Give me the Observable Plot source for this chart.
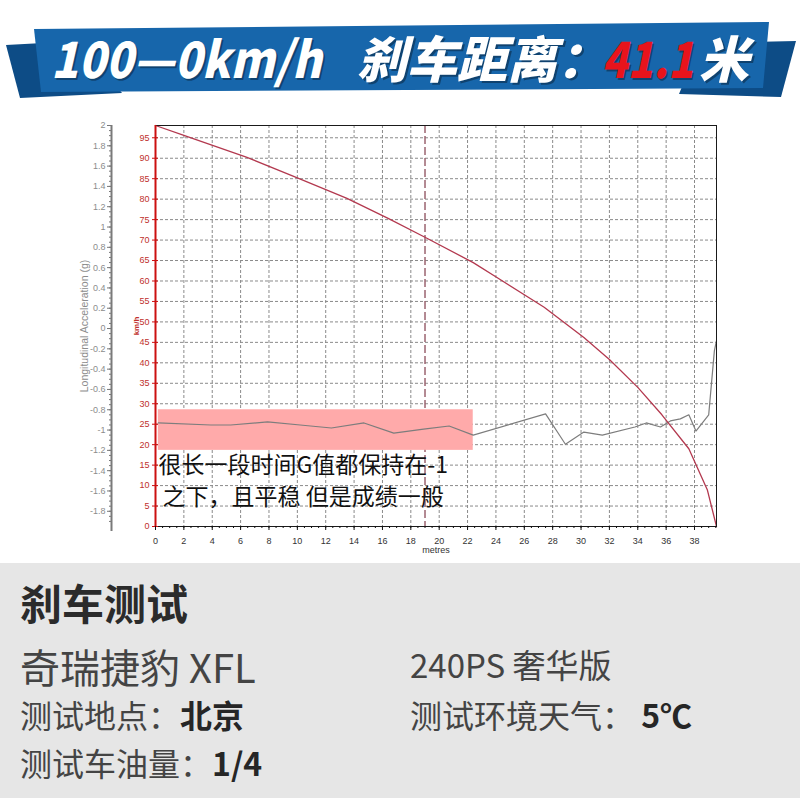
<!DOCTYPE html>
<html>
<head>
<meta charset="utf-8">
<script src="https://cdn.jsdelivr.net/npm/d3@7"></script>
<script src="https://cdn.jsdelivr.net/npm/@observablehq/plot@0.6"></script>
<style>
  body { margin: 0; width: 800px; height: 798px; position: relative; background: #fff; overflow: hidden;
         font-family: "Noto Sans CJK SC", "Noto Sans", sans-serif; }
  #chart { position: absolute; left: 0; top: 0; }
  .rib { position: absolute; left: 0; top: 0; width: 800px; height: 110px; }
  .tailL { background: #0d4c86; clip-path: polygon(6px 45px, 80px 41px, 122px 93px, 20px 98px); }
  .tailR { background: #0d4c86; clip-path: polygon(700px 43px, 796px 41px, 781px 97px, 679px 94px); }
  .band  { background: #1766ab; clip-path: polygon(34px 29px, 769px 22px, 763px 88px, 41px 92px); }
  .bt { position: absolute; top: 31px; font-size: 50px; line-height: 50px; font-weight: 900; font-style: italic;
        color: #fff; white-space: nowrap; text-shadow: 2px 2px 0 rgba(0,0,0,0.35); transform-origin: 0 50%; }
  .panel { position: absolute; left: 0; top: 563px; width: 800px; height: 235px; background: #e6e6e6; }
  .pt { position: absolute; white-space: nowrap; color: #444; }
  .pt b { color: #262626; }
</style>
</head>
<body>
<div id="chart"></div>

<div class="rib tailL"></div>
<div class="rib tailR"></div>
<div class="rib band"></div>
<div class="bt" style="left:51px;transform:scaleX(0.9)">100—0km/h</div>
<div class="bt" style="left:357px">刹车距离：</div>
<div class="bt" style="left:602px;color:#e8141c;transform:scaleX(0.84)">41.1</div>
<div class="bt" style="left:699px">米</div>

<div class="panel"></div>
<div class="pt" style="left:20px;top:581px;font-size:42px;line-height:42px;font-weight:bold;color:#2b2b2b">刹车测试</div>
<div class="pt" style="left:20px;top:646px;font-size:40px;line-height:40px">奇瑞捷豹 XFL</div>
<div class="pt" style="left:410px;top:648px;font-size:33px;line-height:33px">240PS 奢华版</div>
<div class="pt" style="left:20px;top:698px;font-size:32px;line-height:32px">测试地点：<b>北京</b></div>
<div class="pt" style="left:410px;top:698px;font-size:32px;line-height:32px">测试环境天气： <b>5℃</b></div>
<div class="pt" style="left:20px;top:746px;font-size:32px;line-height:32px">测试车油量：<b>1/4</b></div>

<script>
// Speed trace: distance travelled (m) and speed (km/h)
const speedDist = [0, 2, 6.45, 10.0, 13.5, 16.4, 19.1, 22.4, 24.1, 27.4, 30.2, 32.0, 34.0, 35.7, 37.6, 38.9, 39.55];
const speedKmh  = [98, 95.6, 90.2, 85.2, 80.2, 75.3, 70.5, 64.5, 60.8, 53.6, 46.2, 40.8, 34.0, 27.3, 19.0, 9.0, 0];

// Longitudinal acceleration trace: distance (m) and acceleration (g)
const accelDist = [0.2, 3.9, 5.3, 7.9, 10.2, 12.4, 14.7, 16.8, 18.9, 20.7, 22.4, 27.5, 28.9, 30.2, 31.5, 33.8,
                   34.6, 35.6, 36.3, 37.0, 37.6, 38.1, 39.0, 39.4, 39.55];
const accelG    = [-0.93, -0.95, -0.95, -0.92, -0.95, -0.98, -0.93, -1.03, -0.99, -0.96, -1.05, -0.84, -1.14, -1.02,
                   -1.05, -0.97, -0.93, -0.97, -0.91, -0.89, -0.85, -1.01, -0.85, -0.22, -0.12];

// Highlighted steady-braking band and cursor position
const bandDist = [0.2, 22.4];
const bandG = [-1.2, -0.8];
const cursorDist = [19];

// Axis ticks
const distTicks = [0, 2, 4, 6, 8, 10, 12, 14, 16, 18, 20, 22, 24, 26, 28, 30, 32, 34, 36, 38];
const kmhTicks = [0, 5, 10, 15, 20, 25, 30, 35, 40, 45, 50, 55, 60, 65, 70, 75, 80, 85, 90, 95];
const gTicks = [2, 1.8, 1.6, 1.4, 1.2, 1, 0.8, 0.6, 0.4, 0.2, 0, -0.2, -0.4, -0.6, -0.8, -1, -1.2, -1.4, -1.6, -1.8];

// Scale extents
const distDomain = [0, 39.55];
const kmhDomain = [0, 98];
const gDomain = [-1.95, 2];

const noteLines = ["很长一段时间G值都保持在-1", "之下，且平稳 但是成绩一般"];

// The acceleration axis shares the vertical space with the speed axis
const gToKmh = d3.scaleLinear().domain(gDomain).range(kmhDomain);

const speed = speedDist.map((d, i) => ({d, v: speedKmh[i]}));
const accel = accelDist.map((d, i) => ({d, g: accelG[i]}));
const band = [{x1: bandDist[0], x2: bandDist[1], g1: bandG[0], g2: bandG[1]}];
const gMinor = d3.range(-40, 41).map(i => i * 0.05).filter(v => v >= -1.95 && v <= 2);
const distMinor = d3.range(0, 80).map(i => i * 0.5).filter(v => v <= distDomain[1]);
const fmtG = g => String(+g.toFixed(1));
const blank = () => "";

const grid = {stroke: "#8a8a8a", strokeOpacity: 1, strokeDasharray: "3,2"};
const red = "#cc1010";
const noteFont = {fontSize: 23, fill: "#111", fontFamily: '"Noto Sans CJK SC", sans-serif', textAnchor: "start",
                  frameAnchor: "bottom-left"};

const chart = Plot.plot({
  width: 800,
  height: 565,
  marginTop: 125,
  marginRight: 84,
  marginBottom: 39,
  marginLeft: 155,
  x: {domain: distDomain, axis: null, label: null},
  y: {domain: kmhDomain, axis: null, label: null},
  style: {background: "transparent", fontFamily: '"Liberation Sans", Arial, sans-serif', fontSize: "9px"},
  marks: [
    Plot.gridX(distTicks.filter(d => d > 0), grid),
    Plot.gridY(kmhTicks.filter(d => d > 0), grid),
    Plot.ruleX(cursorDist, {stroke: "#9b6470", strokeWidth: 1.5, strokeDasharray: "8,3"}),
    Plot.rect(band, {x1: "x1", x2: "x2", y1: d => gToKmh(d.g1), y2: d => gToKmh(d.g2), fill: "#ffaaaa"}),
    Plot.line(accel, {x: "d", y: d => gToKmh(d.g), stroke: "#7d7d7d", strokeWidth: 1.2}),
    Plot.line(speed, {x: "d", y: "v", stroke: "#b3394f", strokeWidth: 1.3}),
    Plot.frame({stroke: "#1a1a1a"}),
    Plot.ruleX([0], {stroke: red, strokeWidth: 2}),

    // speed axis (red)
    Plot.axisY(kmhTicks, {anchor: "left", label: null, tickSize: 3, tickPadding: 3, stroke: red, fill: "#c0302c",
                          tickFormat: d => String(d)}),
    Plot.axisY(kmhTicks, {anchor: "left", label: null, tickSize: 3, dx: 3, stroke: red, tickFormat: blank}),

    // acceleration axis (grey)
    Plot.ruleX([0], {dx: -44, y1: () => gToKmh(-2), y2: () => gToKmh(2), stroke: "#7a7a7a", strokeWidth: 2}),
    Plot.axisY(gTicks, {y: g => gToKmh(g), anchor: "left", label: null, dx: -44, tickSize: 4, tickPadding: 2,
                        stroke: "#777", fill: "#8c8c8c", tickFormat: fmtG}),
    Plot.axisY(gMinor, {y: g => gToKmh(g), anchor: "left", label: null, dx: -44, tickSize: 2, stroke: "#777",
                        tickFormat: blank}),

    // distance axis
    Plot.axisX(distTicks, {anchor: "bottom", label: null, tickSize: 4, tickPadding: 7, stroke: "#111", fill: "#333",
                           tickFormat: d => String(d)}),
    Plot.axisX(distMinor, {anchor: "bottom", label: null, tickSize: 2, stroke: "#111", tickFormat: blank}),

    Plot.text(["metres"], {text: d => d, frameAnchor: "bottom", dy: 26, fill: "#333"}),
    Plot.text(["km/h"], {text: d => d, frameAnchor: "left", textAnchor: "middle", dx: -19, rotate: -90,
                         fill: "#c0302c", fontWeight: "bold", fontSize: 8}),
    Plot.text(["Longitudinal Acceleration (g)"], {text: d => d, frameAnchor: "left", textAnchor: "middle", dx: -71,
                                                  rotate: -90, fill: "#8c8c8c", fontSize: 10.5}),

    Plot.text([noteLines[0]], {text: d => d, dx: 3, dy: -54, ...noteFont}),
    Plot.text([noteLines[1]], {text: d => d, dx: 7, dy: -22, ...noteFont})
  ]
});

document.getElementById("chart").appendChild(chart);
</script>
</body>
</html>
